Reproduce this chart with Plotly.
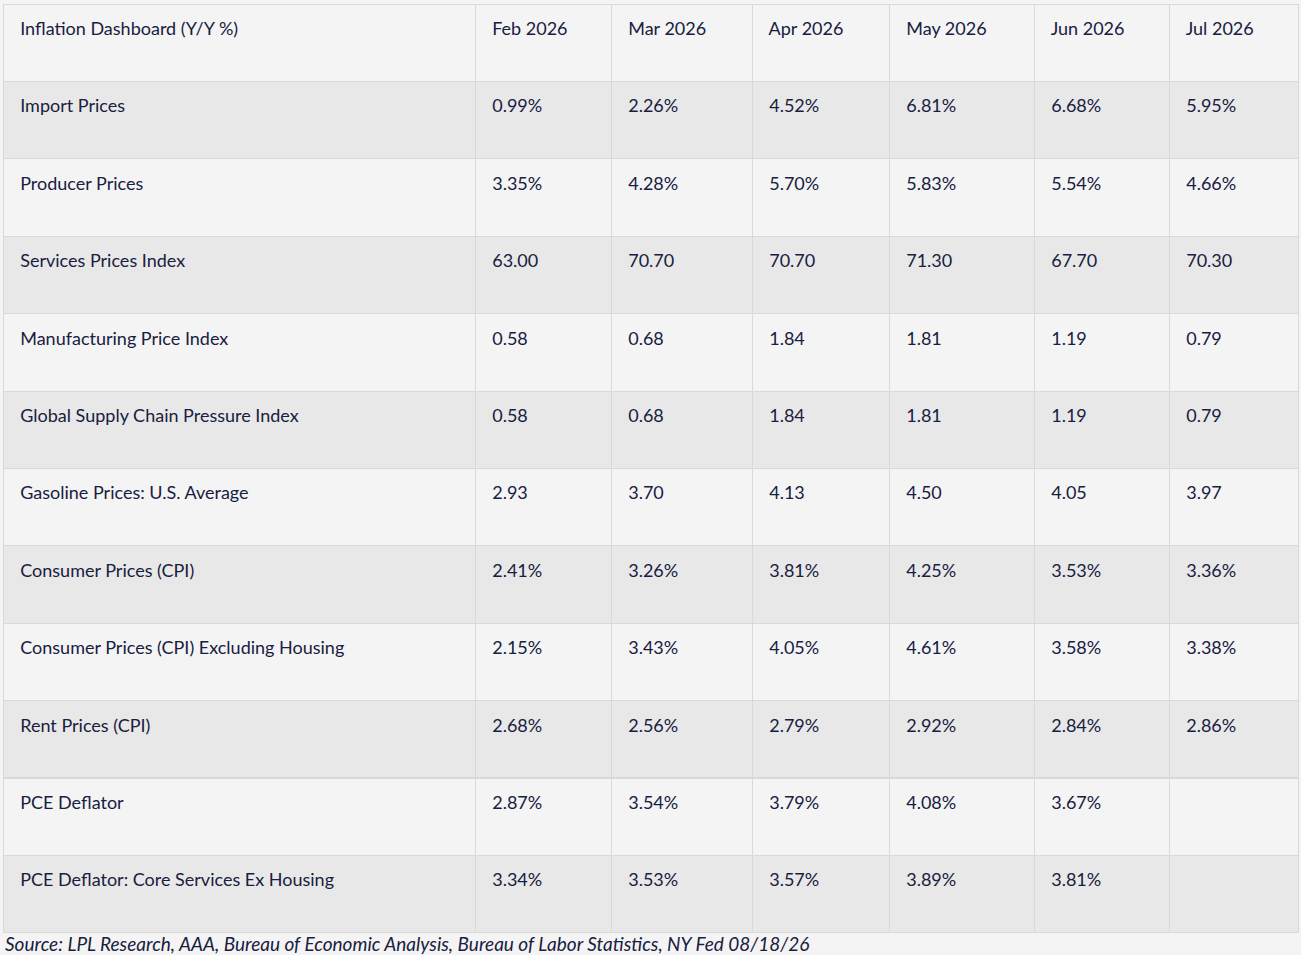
import plotly.graph_objects as go

months = ["Feb 2026", "Mar 2026", "Apr 2026", "May 2026", "Jun 2026", "Jul 2026"]
indicators = [
    "Import Prices",
    "Producer Prices",
    "Services Prices Index",
    "Manufacturing Price Index",
    "Global Supply Chain Pressure Index",
    "Gasoline Prices: U.S. Average",
    "Consumer Prices (CPI)",
    "Consumer Prices (CPI) Excluding Housing",
    "Rent Prices (CPI)",
    "PCE Deflator",
    "PCE Deflator: Core Services Ex Housing",
]
feb = ["0.99%", "3.35%", "63.00", "0.58", "0.58", "2.93", "2.41%", "2.15%", "2.68%", "2.87%", "3.34%"]
mar = ["2.26%", "4.28%", "70.70", "0.68", "0.68", "3.70", "3.26%", "3.43%", "2.56%", "3.54%", "3.53%"]
apr = ["4.52%", "5.70%", "70.70", "1.84", "1.84", "4.13", "3.81%", "4.05%", "2.79%", "3.79%", "3.57%"]
may = ["6.81%", "5.83%", "71.30", "1.81", "1.81", "4.50", "4.25%", "4.61%", "2.92%", "4.08%", "3.89%"]
jun = ["6.68%", "5.54%", "67.70", "1.19", "1.19", "4.05", "3.53%", "3.58%", "2.84%", "3.67%", "3.81%"]
jul = ["5.95%", "4.66%", "70.30", "0.79", "0.79", "3.97", "3.36%", "3.38%", "2.86%", "", ""]

source = "Source: LPL Research, AAA, Bureau of Economic Analysis, Bureau of Labor Statistics, NY Fed 08/18/26"

TEXT = "#18203f"
LIGHT = "#f4f4f4"
DARK = "#e8e8e8"
LINE = "#d9d9d9"
FONT = "Lato"
NBSP = "\u00a0"


def pad(items):
    # plotly's cell padding is fixed at 8px and the reference text sits lower and
    # further in. An invisible first line (a lone nbsp) at a small cell font
    # pushes the text down; the visible text is set back to 18px in a span.
    return [
        f'{NBSP}<br><span style="font-size:18px">{NBSP * 2}{s}</span>' if s else s
        for s in items
    ]


row_fill = [DARK if i % 2 == 0 else LIGHT for i in range(len(indicators))]
columns = [indicators, feb, mar, apr, may, jun, jul]

fig = go.Figure(
    go.Table(
        columnwidth=[472, 136, 141, 137, 145, 135, 129],
        header=dict(
            values=pad(["Inflation Dashboard (Y/Y %)"] + months),
            fill_color=LIGHT,
            line=dict(color=LINE, width=1),
            align="left",
            height=77.4,
            font=dict(family=FONT, size=10, color=TEXT),
        ),
        cells=dict(
            values=[pad(col) for col in columns],
            fill_color=[row_fill] * 7,
            line=dict(color=LINE, width=1),
            align="left",
            height=77.4,
            font=dict(family=FONT, size=10, color=TEXT),
        ),
        domain=dict(x=[0, 1], y=[0, 1]),
    )
)

fig.add_annotation(
    text=f"<i>{source}</i>",
    x=0, y=0, xref="paper", yref="paper",
    xanchor="left", yanchor="top", yshift=3,
    showarrow=False,
    font=dict(family=FONT, size=19, color=TEXT),
)

fig.update_layout(
    width=1301,
    height=955,
    margin=dict(l=3, r=3, t=4, b=22),
    paper_bgcolor=LIGHT,
    plot_bgcolor=LIGHT,
)

fig.write_html(
    "out.html",
    config={"displayModeBar": False},
    post_script="document.body.style.margin='0';",
)
